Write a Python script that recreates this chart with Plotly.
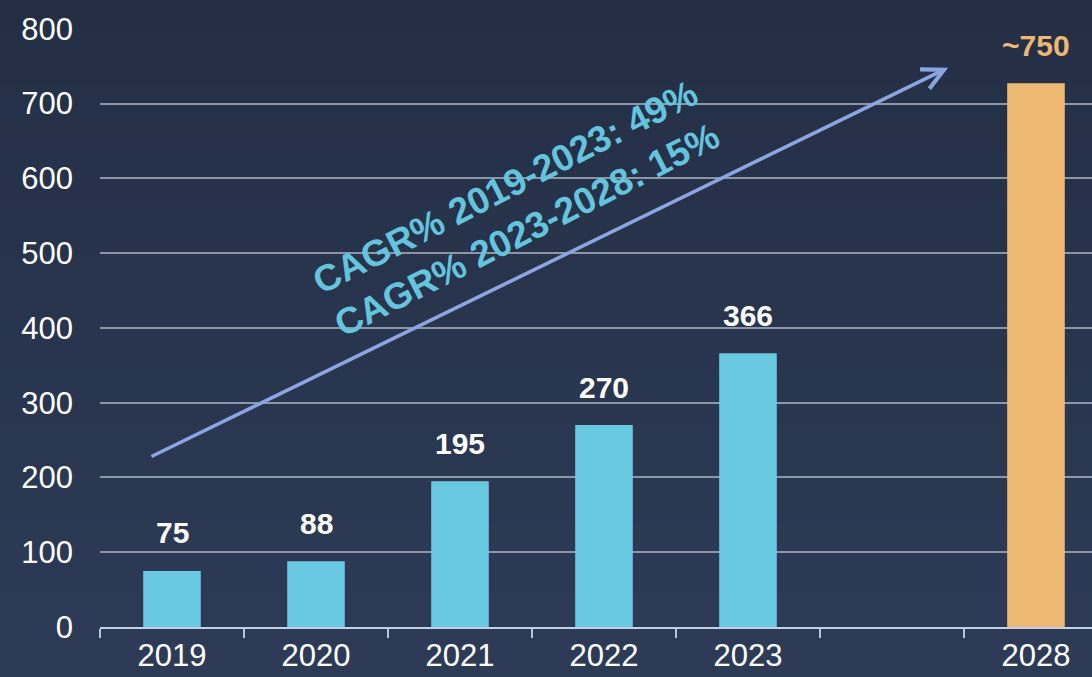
import plotly.graph_objects as go

# slots on the x axis: one empty slot between 2023 and 2028
slots = ["2019", "2020", "2021", "2022", "2023", " ", "2028"]
years = ["2019", "2020", "2021", "2022", "2023", "2028"]
values = [75, 88, 195, 270, 366, 727]
labels = ["75", "88", "195", "270", "366", "~750"]
y_ticks = [0, 100, 200, 300, 400, 500, 600, 700, 800]
cagr_text = ["CAGR% 2019-2023: 49%", "CAGR% 2023-2028: 15%"]

BLUE = "#68C8E1"
ORANGE = "#EDB872"
FONT = "Liberation Sans, Arial, sans-serif"

W, H = 1092, 677
M = dict(l=100, r=0, t=28, b=50)
plot_h = H - M["t"] - M["b"]

colors = [BLUE] * 5 + [ORANGE]
fig = go.Figure()
fig.add_trace(go.Bar(
    x=years, y=values, marker=dict(color=colors, line=dict(width=0)),
    width=0.4, hoverinfo="skip",
))

# value labels above bars (x given as slot index, category axis)
for yr, v, lab, c in zip(years, values, labels, colors):
    fig.add_annotation(
        x=slots.index(yr), y=v, text=f"<b>{lab}</b>", showarrow=False,
        yanchor="middle", yshift=38,
        font=dict(family=FONT, size=30, color="white" if c == BLUE else ORANGE),
    )

# growth arrow
fig.add_annotation(
    x=5.39, y=748, ax=-0.153, ay=227, xref="x", yref="y", axref="x", ayref="y",
    text="", showarrow=True, arrowhead=5, arrowsize=1.2, arrowwidth=3.5,
    arrowcolor="#8CA5E0", standoff=0, startstandoff=0,
)
fig.add_annotation(
    x=2.39, y=560, xref="x", yref="y", text="<b>" + "<br>".join(cagr_text) + "</b>",
    showarrow=False, textangle=-27, align="left",
    font=dict(family=FONT, size=37, color="#64C4DE"),
)

# vertical gradient background
n = 40
top, bot = (0x24, 0x2F, 0x45), (0x2D, 0x3B, 0x57)
y_lo, y_hi = -M["b"] / plot_h, 1 + M["t"] / plot_h
for i in range(n):
    f = i / (n - 1)
    col = "rgb(%d,%d,%d)" % tuple(round(b + (t - b) * f) for t, b in zip(top, bot))
    fig.add_shape(
        type="rect", xref="paper", yref="paper", layer="below",
        x0=-0.2, x1=1.1, y0=y_lo + (y_hi - y_lo) * i / n - 0.001,
        y1=y_lo + (y_hi - y_lo) * (i + 1) / n + 0.001,
        fillcolor=col, line=dict(width=0),
    )

fig.update_layout(
    width=W, height=H, margin=M, showlegend=False,
    paper_bgcolor="#28344E", plot_bgcolor="rgba(0,0,0,0)",
    font=dict(family=FONT, color="white", size=31),
    xaxis=dict(
        type="category", categoryorder="array", categoryarray=slots,
        range=[-0.5, 6.389], tickson="boundaries", ticks="outside", ticklen=9,
        tickwidth=2, tickcolor="#B8C4DC", showline=True, linecolor="#C4CFE4",
        linewidth=2, showgrid=False, tickfont=dict(size=31, color="white"),
        fixedrange=True,
    ),
    yaxis=dict(
        range=[0, 801], tickvals=y_ticks, showgrid=True, gridcolor="#8D96A6",
        gridwidth=2, zeroline=False, showline=False, ticks="",
        ticklabelstandoff=26, tickfont=dict(size=31, color="white"),
        fixedrange=True,
    ),
)

fig.write_html(
    "out.html",
    config={"displayModeBar": False},
    post_script="document.body.style.margin='0';",
)
